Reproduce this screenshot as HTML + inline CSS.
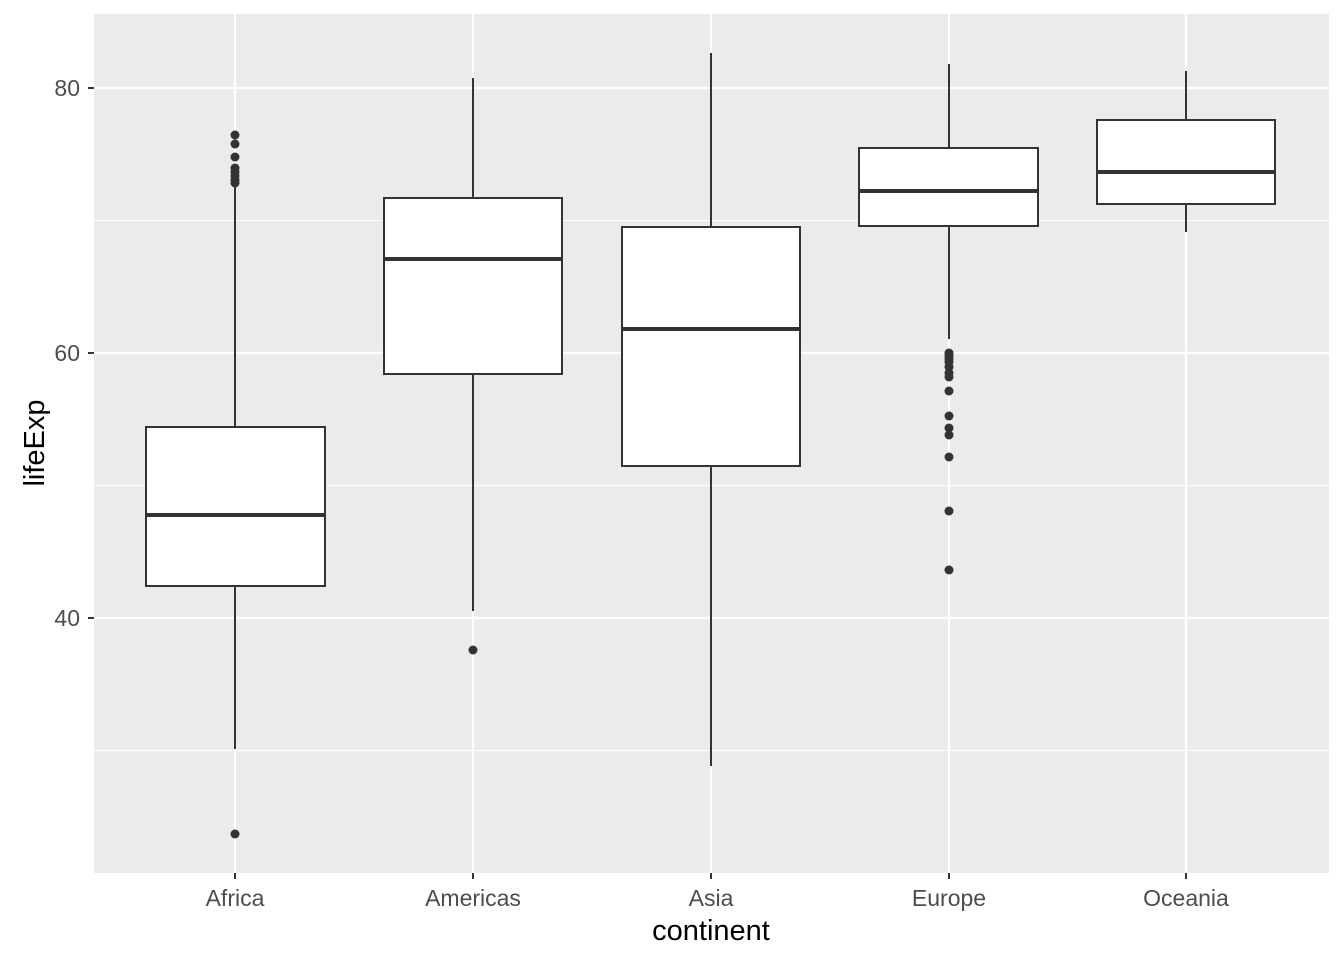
<!DOCTYPE html>
<html><head><meta charset="utf-8"><style>body{margin:0;background:#fff}svg{display:block}</style></head><body>
<svg width="1344" height="960" xmlns="http://www.w3.org/2000/svg" font-family="Liberation Sans, sans-serif">
<rect x="0" y="0" width="1344" height="960" fill="#fff"/>
<rect x="94" y="14" width="1235" height="859" fill="#ebebeb"/>
<g stroke="#fff" stroke-width="1.1">
<line x1="94" x2="1329" y1="220.5" y2="220.5"/><line x1="94" x2="1329" y1="485.5" y2="485.5"/><line x1="94" x2="1329" y1="750.5" y2="750.5"/>
</g>
<g stroke="#fff" stroke-width="2.2">
<line x1="94" x2="1329" y1="88" y2="88"/><line x1="94" x2="1329" y1="353" y2="353"/><line x1="94" x2="1329" y1="618" y2="618"/>
<line x1="235" x2="235" y1="14" y2="873"/><line x1="473" x2="473" y1="14" y2="873"/><line x1="711" x2="711" y1="14" y2="873"/><line x1="949" x2="949" y1="14" y2="873"/><line x1="1186" x2="1186" y1="14" y2="873"/>
</g>
<g stroke="#333" stroke-width="2" fill="#fff">
<line x1="235" x2="235" y1="183" y2="749"/><rect x="146" y="427" width="179" height="159"/><line x1="146" x2="325" y1="515" y2="515" stroke-width="4"/>
<line x1="473" x2="473" y1="78" y2="611"/><rect x="384" y="198" width="178" height="176"/><line x1="384" x2="562" y1="259" y2="259" stroke-width="4"/>
<line x1="711" x2="711" y1="53" y2="766"/><rect x="622" y="227" width="178" height="239"/><line x1="622" x2="800" y1="329" y2="329" stroke-width="4"/>
<line x1="949" x2="949" y1="64" y2="339"/><rect x="859" y="148" width="179" height="78"/><line x1="859" x2="1038" y1="191" y2="191" stroke-width="4"/>
<line x1="1186" x2="1186" y1="71" y2="232"/><rect x="1097" y="120" width="178" height="84"/><line x1="1097" x2="1275" y1="172" y2="172" stroke-width="4"/>
</g>
<g fill="#333">
<circle cx="235" cy="135" r="4.5"/><circle cx="235" cy="144" r="4.5"/><circle cx="235" cy="157" r="4.5"/><circle cx="235" cy="168" r="4.5"/><circle cx="235" cy="172" r="4.5"/><circle cx="235" cy="176" r="4.5"/><circle cx="235" cy="180" r="4.5"/><circle cx="235" cy="183" r="4.5"/><circle cx="235" cy="834" r="4.5"/>
<circle cx="473" cy="650" r="4.5"/>
<circle cx="949" cy="353" r="4.5"/><circle cx="949" cy="356" r="4.5"/><circle cx="949" cy="359" r="4.5"/><circle cx="949" cy="362" r="4.5"/><circle cx="949" cy="367" r="4.5"/><circle cx="949" cy="373" r="4.5"/><circle cx="949" cy="377" r="4.5"/><circle cx="949" cy="391" r="4.5"/><circle cx="949" cy="416" r="4.5"/><circle cx="949" cy="428" r="4.5"/><circle cx="949" cy="435" r="4.5"/><circle cx="949" cy="457" r="4.5"/><circle cx="949" cy="511" r="4.5"/><circle cx="949" cy="570" r="4.5"/>
</g>
<g stroke="#333" stroke-width="2">
<line x1="88" x2="94" y1="88" y2="88"/><line x1="88" x2="94" y1="353" y2="353"/><line x1="88" x2="94" y1="618" y2="618"/>
<line x1="235" x2="235" y1="873" y2="879"/><line x1="473" x2="473" y1="873" y2="879"/><line x1="711" x2="711" y1="873" y2="879"/><line x1="949" x2="949" y1="873" y2="879"/><line x1="1186" x2="1186" y1="873" y2="879"/>
</g>
<g fill="#4d4d4d" font-size="23">
<text x="80" y="96" text-anchor="end">80</text><text x="80" y="361" text-anchor="end">60</text><text x="80" y="626" text-anchor="end">40</text>
<text x="235" y="906" text-anchor="middle">Africa</text><text x="473" y="906" text-anchor="middle">Americas</text><text x="711" y="906" text-anchor="middle">Asia</text><text x="949" y="906" text-anchor="middle">Europe</text><text x="1186" y="906" text-anchor="middle">Oceania</text>
</g>
<text x="711" y="940" text-anchor="middle" font-size="29" fill="#000">continent</text>
<text transform="translate(44,443) rotate(-90)" text-anchor="middle" font-size="29" fill="#000">lifeExp</text>
</svg>
</body></html>
